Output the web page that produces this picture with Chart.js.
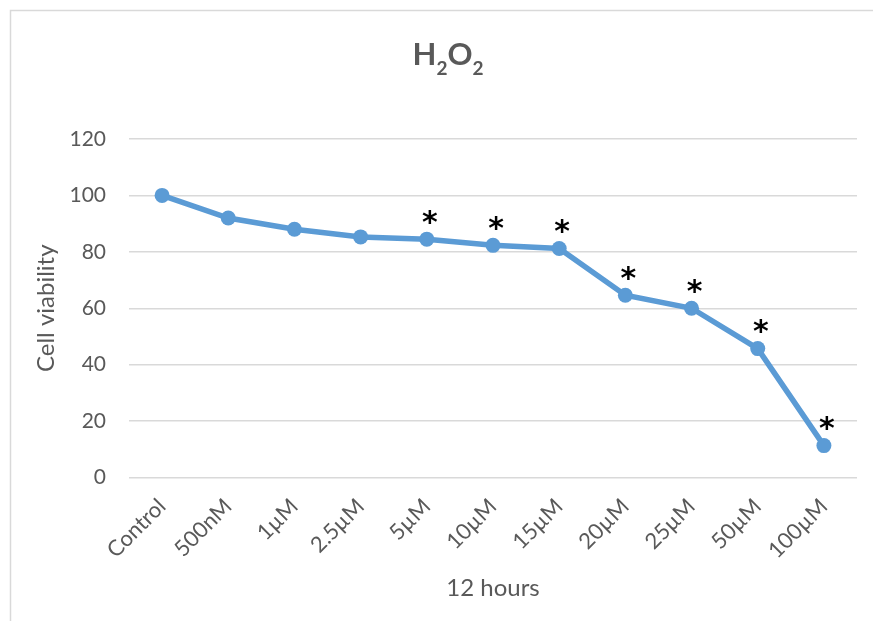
<!DOCTYPE html>
<html>
<head>
<meta charset="utf-8">
<script src="https://cdn.jsdelivr.net/npm/chart.js@4.4.1/dist/chart.umd.min.js"></script>
<style>
  body { margin: 0; background: #fff; }
  canvas { display: block; }
</style>
</head>
<body>
<canvas id="chart" width="873" height="621"></canvas>
<script>
const labels = ['Control', '500nM', '1µM', '2.5µM', '5µM', '10µM', '15µM', '20µM', '25µM', '50µM', '100µM'];
const viability = [100, 92, 88, 85.3, 84.5, 82.3, 81.2, 64.6, 60, 45.7, 11.3];
const significance = ['', '', '', '', '*', '*', '*', '*', '*', '*', '*'];
const titleParts = [['H', false], ['2', true], ['O', false], ['2', true]];

const grey = '#595959';
const fontFamily = 'Lato, "Open Sans", sans-serif';

// light frame round the chart
const framePlugin = {
  id: 'frame',
  beforeDraw(chart) {
    const ctx = chart.ctx;
    ctx.save();
    ctx.fillStyle = '#fff';
    ctx.fillRect(0, 0, chart.width, chart.height);
    ctx.strokeStyle = '#d9d9d9';
    ctx.lineWidth = 1.5;
    ctx.strokeRect(10.5, 10.5, 880, 700);
    ctx.restore();
  }
};

// title with subscripts
const titlePlugin = {
  id: 'subTitle',
  afterDraw(chart) {
    const ctx = chart.ctx;
    ctx.save();
    ctx.fillStyle = grey;
    ctx.textBaseline = 'alphabetic';
    const big = 'bold 31px ' + fontFamily;
    const small = 'bold 19px ' + fontFamily;
    let total = 0;
    titleParts.forEach(([t, sub]) => { ctx.font = sub ? small : big; total += ctx.measureText(t).width; });
    let x = 448 - total / 2;
    titleParts.forEach(([t, sub]) => {
      ctx.font = sub ? small : big;
      ctx.fillText(t, x, sub ? 75 : 65);
      x += ctx.measureText(t).width;
    });
    ctx.restore();
  }
};

// asterisks above the significant points
const starPlugin = {
  id: 'stars',
  afterDatasetsDraw(chart) {
    const ctx = chart.ctx;
    const meta = chart.getDatasetMeta(0);
    ctx.save();
    ctx.fillStyle = '#000';
    ctx.font = 'bold 30px "DejaVu Sans"';
    ctx.textAlign = 'center';
    ctx.textBaseline = 'middle';
    meta.data.forEach((pt, i) => {
      if (significance[i]) ctx.fillText(significance[i], pt.x + 3, pt.y - 15);
    });
    ctx.restore();
  }
};

new Chart(document.getElementById('chart'), {
  type: 'line',
  data: {
    labels: labels,
    datasets: [{
      data: viability,
      borderColor: '#5b9bd5',
      backgroundColor: '#5b9bd5',
      borderWidth: 5.5,
      pointRadius: 7.5,
      pointBorderWidth: 0,
      tension: 0,
      fill: false
    }]
  },
  options: {
    responsive: false,
    animation: false,
    layout: { padding: { left: 10, right: 16, top: 139, bottom: 10 } },
    plugins: {
      legend: { display: false },
      title: { display: false },
      tooltip: { enabled: false }
    },
    scales: {
      x: {
        offset: true,
        grid: { display: false, offset: true },
        border: { display: false },
        ticks: {
          minRotation: 45, maxRotation: 45, padding: 8,
          color: grey, font: { family: fontFamily, size: 22 }
        },
        title: {
          display: true, text: '12 hours', color: grey,
          font: { family: fontFamily, size: 24 }, padding: { top: 0, bottom: 8 }
        },
        afterFit(scale) { scale.height = 133.5; }
      },
      y: {
        min: 0, max: 120,
        grid: { color: '#d9d9d9', lineWidth: 1.5, drawTicks: false },
        border: { display: false },
        ticks: {
          stepSize: 20, padding: 23,
          color: grey, font: { family: fontFamily, size: 21 }
        },
        title: {
          display: true, text: 'Cell viability', color: grey,
          font: { family: fontFamily, size: 24 }, padding: { top: 22, bottom: 0 }
        },
        afterFit(scale) { scale.width = 119; }
      }
    }
  },
  plugins: [framePlugin, titlePlugin, starPlugin]
});
</script>
</body>
</html>
